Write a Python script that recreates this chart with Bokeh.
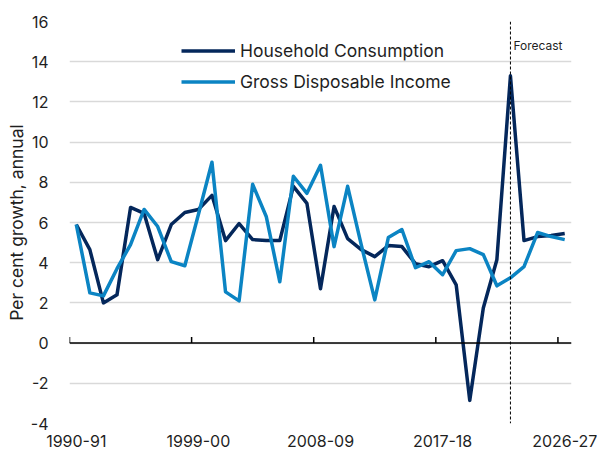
from bokeh.plotting import figure
from bokeh.models import FixedTicker, Span, Legend, LegendItem, Range1d
from bokeh.core.properties import value
from bokeh.embed import file_html
from bokeh.resources import INLINE

years = ["1990-91", "1991-92", "1992-93", "1993-94", "1994-95", "1995-96", "1996-97",
         "1997-98", "1998-99", "1999-00", "2000-01", "2001-02", "2002-03", "2003-04",
         "2004-05", "2005-06", "2006-07", "2007-08", "2008-09", "2009-10", "2010-11",
         "2011-12", "2012-13", "2013-14", "2014-15", "2015-16", "2016-17", "2017-18",
         "2018-19", "2019-20", "2020-21", "2021-22", "2022-23", "2023-24", "2024-25",
         "2025-26", "2026-27"]

household_consumption = [5.9, 4.65, 2.0, 2.4, 6.75, 6.45, 4.15, 5.9, 6.5, 6.65,
                         7.35, 5.1, 5.95, 5.15, 5.1, 5.1, 7.8, 6.95, 2.7, 6.8,
                         5.2, 4.65, 4.3, 4.85, 4.8, 3.95, 3.8, 4.1, 2.9, -2.85,
                         1.75, 4.15, 13.3, 5.1, 5.3, 5.35, 5.45]

gross_disposable_income = [5.9, 2.5, 2.35, 3.7, 4.9, 6.65, 5.8, 4.05, 3.85, 6.4,
                           9.0, 2.55, 2.1, 7.9, 6.3, 3.05, 8.3, 7.45, 8.85, 4.8,
                           7.8, 4.9, 2.15, 5.25, 5.65, 3.75, 4.05, 3.4, 4.6, 4.7,
                           4.4, 2.85, 3.25, 3.8, 5.5, 5.3, 5.15]

x_tick_labels = ["1990-91", "1999-00", "2008-09", "2017-18", "2026-27"]
y_ticks = [-4, -2, 0, 2, 4, 6, 8, 10, 12, 14, 16]
forecast_start = "2022-23"

FONT = "Inter"
TEXT = "#1f1f1f"
NAVY = "#04275b"
BLUE = "#0b84c3"

x = list(range(len(years)))
x_tick_pos = [years.index(t) for t in x_tick_labels]
boundaries = [pos - 0.5 for pos in x_tick_pos]
forecast_x = years.index(forecast_start)

p = figure(frame_width=502, frame_height=402,
           x_range=Range1d(-0.5, len(years) - 0.5),
           y_range=Range1d(y_ticks[0], y_ticks[-1]),
           output_backend="svg", toolbar_location=None,
           min_border_left=69, min_border_right=26,
           min_border_top=21, min_border_bottom=25)
p.outline_line_color = None
p.background_fill_color = "white"
p.border_fill_color = "white"

# grid
p.xgrid.visible = False
p.ygrid.ticker = FixedTicker(ticks=y_ticks)
p.ygrid.grid_line_color = "#d9d9d9"
p.ygrid.grid_line_width = 1.5

# x axis
xa = p.xaxis[0]
xa.ticker = FixedTicker(ticks=x_tick_pos)
xa.major_label_overrides = {pos: lab for pos, lab in zip(x_tick_pos, x_tick_labels)}
xa.axis_line_color = None
xa.major_tick_line_color = None
xa.minor_tick_line_color = None
xa.major_label_standoff = 5
xa.major_label_text_font = FONT
xa.major_label_text_font_size = "16px"
xa.major_label_text_color = TEXT

# y axis
ya = p.yaxis[0]
ya.ticker = FixedTicker(ticks=y_ticks)
ya.major_label_overrides = {v: str(v) for v in y_ticks}
ya.axis_line_color = None
ya.major_tick_line_color = None
ya.minor_tick_line_color = None
ya.major_label_standoff = 15
ya.major_label_text_font = FONT
ya.major_label_text_font_size = "16px"
ya.major_label_text_color = TEXT
ya.axis_label = "Per cent growth, annual"
ya.axis_label_text_font = FONT
ya.axis_label_text_font_style = "normal"
ya.axis_label_text_font_size = "17.5px"
ya.axis_label_text_color = TEXT
ya.axis_label_standoff = 1

# zero axis line with category-boundary ticks
p.add_layout(Span(location=0, dimension="width", line_color="black", line_width=1.5))
p.segment(x0=boundaries, y0=[0] * len(boundaries), x1=boundaries,
          y1=[0.3] * len(boundaries), line_color="black", line_width=1.5)

# forecast marker
p.add_layout(Span(location=forecast_x, dimension="height", line_color="black",
                  line_width=1, line_dash="3 2"))
p.text(x=[forecast_x], y=[14.8], text=["Forecast"], x_offset=3,
       text_baseline="middle", text_align="left",
       text_font=value(FONT), text_font_size="12px", text_color=TEXT)

r1 = p.line(x, household_consumption, line_color=NAVY, line_width=3.5, line_join="round")
r2 = p.line(x, gross_disposable_income, line_color=BLUE, line_width=3.5, line_join="round")

legend = Legend(items=[LegendItem(label="Household Consumption", renderers=[r1]),
                       LegendItem(label="Gross Disposable Income", renderers=[r2])],
                location=(112, 331), glyph_width=54, glyph_height=21, spacing=10,
                padding=0, margin=0, border_line_color=None,
                background_fill_alpha=0, label_standoff=5,
                label_text_font=FONT, label_text_font_size="17.5px",
                label_text_color=TEXT)
p.add_layout(legend)

open("out.html", "w").write(file_html(p, INLINE))
